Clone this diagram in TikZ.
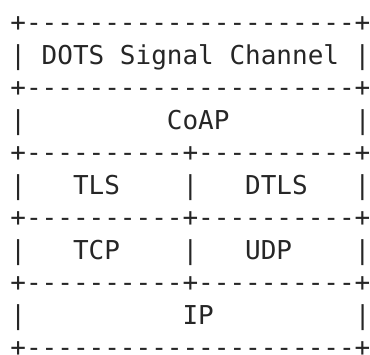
\documentclass[tikz,border=0pt]{standalone}
\usepackage{fontspec}
\setmonofont{DejaVu Sans Mono}

\tikzset{asciirow/.style={anchor=base west,inner sep=0pt,text=black!85,
  font=\ttfamily\fontsize{26}{32}\selectfont}}

\begin{document}
\begin{tikzpicture}[x=1pt,y=1pt]
\useasboundingbox (0,0) rectangle (370,-354);
%one text row per line of the figure, baselines 32.5pt apart
\node[asciirow] (row1) at (10.2,-31.5) {+---------------------+};
\node[asciirow] (row2) at (10.2,-64.0) {|~DOTS~Signal~Channel~|};
\node[asciirow] (row3) at (10.2,-96.5) {+---------------------+};
\node[asciirow] (row4) at (10.2,-129.0) {|~~~~~~~~~CoAP~~~~~~~~|};
\node[asciirow] (row5) at (10.2,-161.5) {+----------+----------+};
\node[asciirow] (row6) at (10.2,-194.0) {|~~~TLS~~~~|~~~DTLS~~~|};
\node[asciirow] (row7) at (10.2,-226.5) {+----------+----------+};
\node[asciirow] (row8) at (10.2,-259.0) {|~~~TCP~~~~|~~~UDP~~~~|};
\node[asciirow] (row9) at (10.2,-291.5) {+----------+----------+};
\node[asciirow] (row10) at (10.2,-324.0) {|~~~~~~~~~~IP~~~~~~~~~|};
\node[asciirow] (row11) at (10.2,-356.5) {+---------------------+};

\end{tikzpicture}
\end{document}
